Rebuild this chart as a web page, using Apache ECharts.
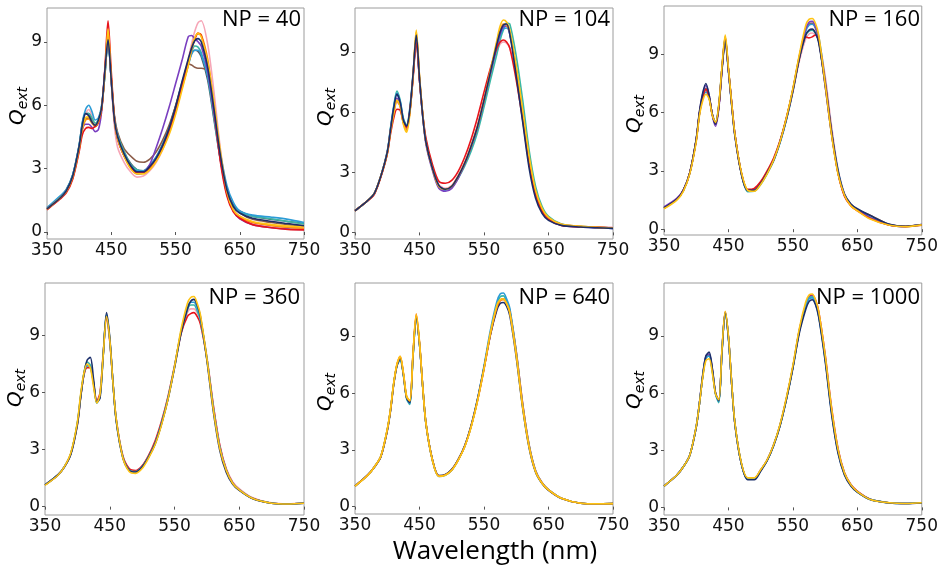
<!DOCTYPE html>
<html><head><meta charset="utf-8">
<script src="https://cdn.jsdelivr.net/npm/echarts@6/dist/echarts.min.js"></script>
<style>html,body{margin:0;padding:0;background:#fff}#c{width:941px;height:569px}</style>
</head><body><div id="c"></div>
<script>
// ---------------- DATA ----------------
const wavelength = [350,370,380,390,400,405,410,415,420,425,430,435,440,445,450,455,460,470,480,490,500,510,520,530,540,550,560,570,575,580,585,590,600,610,620,630,640,650,670,700,725,750];
const xTickLabels = [350,450,550,650,750];
const yTickLabels = [0,3,6,9];
const npLabels = ['NP = 40','NP = 104','NP = 160','NP = 360','NP = 640','NP = 1000'];
const xTitle = 'Wavelength (nm)';

// NP = 40
const np40_gray   = [1.12,1.65,2.0,2.7,4.1, 5.15,5.6,5.6,5.3,5.1, 5.3,5.9,7.5,9.2,7.2, 5.4,4.6,3.8,3.25,2.95, 2.9,3.15,3.55,4.15,4.95, 5.95,7.05,8.0,8.45,8.6, 8.55,8.3,7.2,5.3,3.4, 2.0,1.3,1.0,0.75,0.6, 0.5,0.4];
const np40_brown  = [1.1,1.6,1.95,2.6,4.0, 4.95,5.35,5.4,5.2,5.0, 5.2,5.8,7.4,9.0,7.3, 5.5,4.7,3.95,3.6,3.35, 3.3,3.45,3.8,4.35,5.05, 5.95,6.95,7.95,7.9,7.8, 7.75,7.75,7.6,5.6,3.5, 2.0,1.2,0.9,0.6,0.45, 0.35,0.3];
const np40_pink   = [1.1,1.6,1.95,2.6,4.0, 5.0,5.6,5.8,5.5,5.1, 5.2,5.9,7.6,9.6,7.1, 5.0,4.0,3.3,2.85,2.6, 2.65,2.9,3.3,3.9,4.7, 5.7,6.9,8.2,8.9,9.5, 9.9,10.0,8.9,6.6,3.9, 2.0,1.1,0.75,0.45,0.3, 0.22,0.2];
const np40_teal   = [1.1,1.65,2.0,2.7,4.1, 5.1,5.6,5.6,5.4,5.15, 5.3,5.9,7.4,9.0,7.2, 5.4,4.6,3.8,3.2,2.95, 2.9,3.1,3.5,4.1,4.85, 5.8,6.9,7.95,8.5,8.8, 8.75,8.5,7.4,5.4,3.4, 1.9,1.2,0.95,0.75,0.62, 0.5,0.38];
const np40_blue   = [1.15,1.7,2.0,2.7,4.1, 5.2,5.8,6.0,5.7,5.3, 5.4,6.0,7.4,9.1,7.2, 5.3,4.5,3.7,3.15,2.9, 2.9,3.15,3.55,4.15,4.9, 5.85,6.9,7.9,8.4,8.6, 8.6,8.4,7.4,5.6,3.7, 2.2,1.4,1.0,0.8,0.7, 0.6,0.45];
const np40_purple = [1.1,1.6,1.95,2.6,3.95, 4.85,5.1,5.1,4.95,4.75, 4.85,5.7,7.6,9.2,7.2, 5.2,4.4,3.6,3.05,2.75, 2.8,3.2,4.0,4.9,5.9, 7.0,8.1,9.25,9.3,9.15, 9.0,8.8,7.6,5.6,3.4, 1.8,1.0,0.62,0.35,0.2, 0.15,0.12];
const np40_orange = [1.08,1.58,1.9,2.55,3.9, 4.85,5.3,5.35,5.15,5.0, 5.2,5.8,7.5,9.3,7.3, 5.3,4.4,3.6,3.05,2.8, 2.8,3.0,3.4,4.0,4.7, 5.65,6.8,7.9,8.6,9.1, 9.4,9.35,8.2,6.0,3.5, 1.8,1.0,0.7,0.45,0.3, 0.22,0.18];
const np40_red    = [1.05,1.55,1.85,2.5,3.8, 4.6,4.9,4.95,4.9,5.0, 5.2,5.8,7.7,10.0,7.6, 5.4,4.4,3.6,3.1,2.8, 2.8,3.0,3.4,4.0,4.75, 5.7,6.9,8.1,8.7,9.15, 9.4,9.3,8.0,5.8,3.3, 1.7,0.95,0.65,0.35,0.2, 0.12,0.1];
const np40_gold   = [1.08,1.6,1.92,2.6,3.95, 4.95,5.4,5.45,5.2,5.05, 5.25,5.9,7.5,9.6,7.3, 5.3,4.4,3.6,3.0,2.75, 2.75,2.95,3.35,3.9,4.6, 5.55,6.7,7.9,8.7,9.2, 9.4,9.25,8.1,6.1,3.8, 1.9,1.05,0.75,0.5,0.35, 0.28,0.25];
const np40_navy   = [1.1,1.6,1.95,2.65,4.05, 5.05,5.6,5.5,5.2,5.05, 5.3,5.9,7.6,9.1,7.2, 5.3,4.5,3.7,3.15,2.85, 2.85,3.1,3.5,4.1,4.9, 5.9,7.1,8.2,8.7,9.05, 9.15,9.0,7.8,5.8,3.6, 2.0,1.2,0.9,0.65,0.5, 0.4,0.3];

// NP = 104
const np104_pink   = [1.08,1.6,1.95,2.8,3.95, 5.0,5.9,6.5,6.3,5.5, 5.2,6.0,7.7,9.6,7.6, 5.8,4.5,3.3,2.4,2.2, 2.35,2.85,3.5,4.35,5.35, 6.6,7.9,9.0,9.4,9.5, 9.45,9.2,8.0,6.2,3.9, 2.1,1.2,0.75,0.4,0.3, 0.27,0.25];
const np104_teal   = [1.08,1.6,1.95,2.8,4.05, 5.2,6.3,7.05,6.6,5.7, 5.35,6.2,7.9,9.7,7.6, 5.8,4.5,3.2,2.3,2.15, 2.25,2.7,3.3,4.05,5.0, 6.25,7.6,8.9,9.6,10.1, 10.45,10.4,8.8,6.6,4.1, 2.3,1.3,0.8,0.42,0.3, 0.26,0.22];
const np104_blue   = [1.08,1.6,1.95,2.8,4.0, 5.15,6.25,6.95,6.55,5.65, 5.3,6.1,7.8,9.6,7.7, 5.9,4.6,3.25,2.3,2.1, 2.25,2.75,3.4,4.2,5.2, 6.5,7.9,9.2,9.8,10.15, 10.2,9.9,8.2,6.0,3.6, 1.95,1.1,0.7,0.38,0.28, 0.24,0.2];
const np104_purple = [1.08,1.6,1.95,2.8,4.0, 5.1,6.1,6.7,6.4,5.5, 5.2,6.0,7.8,9.7,7.6, 5.8,4.4,3.1,2.2,2.05, 2.2,2.7,3.4,4.25,5.25, 6.55,7.95,9.3,9.9,10.25, 10.3,9.9,8.1,5.9,3.5, 1.9,1.05,0.65,0.36,0.27, 0.23,0.2];
const np104_orange = [1.08,1.6,1.95,2.8,3.95, 5.05,6.0,6.55,6.3,5.45, 5.1,6.0,7.8,10.0,7.8, 5.9,4.5,3.2,2.3,2.15, 2.3,2.8,3.45,4.3,5.3, 6.6,8.0,9.5,10.1,10.4, 10.35,10.0,8.2,6.0,3.6, 2.0,1.1,0.72,0.4,0.3, 0.26,0.22];
const np104_red    = [1.08,1.58,1.9,2.75,3.9, 4.9,5.7,6.15,6.1,5.5, 5.25,6.0,7.7,9.5,7.6, 5.9,4.7,3.4,2.55,2.45, 2.6,3.05,3.75,4.65,5.75, 7.0,8.2,9.2,9.5,9.6, 9.5,9.2,7.6,5.6,3.4, 1.9,1.05,0.65,0.35,0.28, 0.25,0.22];
const np104_gold   = [1.08,1.6,1.95,2.8,3.95, 5.0,5.9,6.6,6.3,5.4, 5.0,5.9,7.8,10.1,7.8, 5.9,4.5,3.2,2.3,2.15, 2.3,2.8,3.45,4.3,5.3, 6.6,8.1,9.6,10.3,10.6, 10.5,10.1,8.3,6.1,3.8, 2.1,1.2,0.75,0.4,0.3, 0.25,0.22];
const np104_navy   = [1.08,1.6,1.95,2.8,4.0, 5.1,6.2,6.9,6.5,5.6, 5.3,6.1,7.9,9.85,7.7, 5.8,4.5,3.2,2.35,2.15, 2.3,2.8,3.45,4.3,5.3, 6.6,8.0,9.4,10.0,10.35, 10.4,9.9,7.8,5.5,3.2, 1.7,0.95,0.6,0.35,0.27, 0.23,0.2];

// NP = 160
const np160_pink   = [1.08,1.54,2.0,2.9,4.55, 5.9,6.7,7.1,6.75,5.9, 5.5,6.35,8.3,9.9,8.25, 6.5,4.9,2.9,2.0,2.05, 2.4,2.95,3.6,4.5,5.65, 7.05,8.65,9.8,10.05,10.1, 10.0,9.75,7.9,5.3,3.1, 1.85,1.28,1.0,0.6,0.24, 0.15,0.24];
const np160_brown  = [1.08,1.54,2.0,2.9,4.6, 5.95,6.8,7.25,6.8,5.9, 5.45,6.3,8.3,9.9,8.2, 6.5,4.9,2.9,2.0,2.05, 2.4,2.9,3.55,4.5,5.7, 7.2,8.9,10.3,10.55,10.6, 10.35,9.8,7.4,4.9,2.9, 1.75,1.25,1.0,0.72,0.24, 0.15,0.24];
const np160_teal   = [1.08,1.54,2.0,2.9,4.6, 5.95,6.8,7.2,6.8,5.9, 5.45,6.35,8.3,9.85,8.2, 6.45,4.85,2.85,1.93,1.95, 2.3,2.85,3.5,4.45,5.65, 7.1,8.8,10.0,10.2,10.25, 10.1,9.7,7.5,4.95,2.95, 1.78,1.25,1.0,0.57,0.22, 0.14,0.23];
const np160_blue   = [1.1,1.55,2.0,2.9,4.6, 5.95,6.75,7.05,6.75,5.9, 5.5,6.4,8.3,9.6,8.1, 6.4,4.85,2.9,2.0,2.0, 2.35,2.9,3.55,4.45,5.65, 7.1,8.8,10.2,10.5,10.55, 10.4,9.95,7.7,5.1,3.05, 1.8,1.27,1.0,0.6,0.22, 0.14,0.24];
const np160_purple = [1.15,1.6,2.02,2.9,4.6, 6.0,6.95,7.4,6.9,5.85, 5.3,6.2,8.2,9.8,8.2, 6.45,4.85,2.9,2.0,2.0, 2.35,2.9,3.55,4.5,5.7, 7.2,8.9,10.3,10.65,10.7, 10.45,9.85,7.4,4.9,2.9, 1.75,1.25,1.0,0.58,0.22, 0.14,0.24];
const np160_red    = [1.08,1.54,2.0,2.9,4.6, 5.95,6.8,7.2,6.8,5.9, 5.45,6.3,8.3,9.8,8.2, 6.5,4.9,2.9,2.05,2.1, 2.45,3.0,3.65,4.55,5.75, 7.15,8.8,9.9,9.85,9.9, 10.0,9.7,7.6,5.0,2.9, 1.7,1.2,0.95,0.55,0.2, 0.13,0.2];
const np160_navy   = [1.1,1.55,2.0,2.9,4.65, 6.05,7.0,7.5,6.9,5.9, 5.4,6.3,8.2,9.7,8.2, 6.4,4.8,2.85,2.0,2.0, 2.35,2.9,3.55,4.5,5.7, 7.15,8.8,10.0,10.25,10.3, 10.1,9.6,7.5,5.0,3.0, 1.8,1.3,1.05,0.7,0.25, 0.15,0.22];
const np160_gold   = [1.05,1.5,1.95,2.85,4.5, 5.85,6.6,6.95,6.7,5.85, 5.5,6.4,8.4,10.0,8.3, 6.5,4.9,2.95,2.0,1.95, 2.3,2.85,3.55,4.5,5.75, 7.25,9.0,10.5,10.8,10.85, 10.6,10.0,7.5,4.85,2.85, 1.75,1.2,0.95,0.52,0.2, 0.13,0.22];

// NP = 360
const np360_pink  = [1.14,1.67,2.1,2.8,4.35, 5.75,6.9,7.4,7.35,6.5, 5.5,5.9,8.0,10.0,8.8, 6.5,4.6,2.65,1.95,1.86, 2.12,2.65,3.35,4.4,5.7, 7.3,9.05,10.2,10.4,10.4, 10.2,9.8,7.9,5.35,3.25, 2.0,1.3,0.95,0.48,0.2, 0.15,0.2];
const np360_red   = [1.14,1.67,2.1,2.8,4.35, 5.75,6.9,7.3,7.3,6.5, 5.55,6.0,8.1,9.9,8.7, 6.5,4.6,2.7,2.0,1.9, 2.15,2.7,3.45,4.5,5.8, 7.4,9.1,10.0,10.15,10.2, 10.0,9.6,7.8,5.3,3.2, 1.95,1.25,0.9,0.45,0.18, 0.14,0.18];
const np360_teal  = [1.14,1.67,2.1,2.8,4.4, 5.8,7.0,7.6,7.45,6.5, 5.45,5.8,8.05,10.1,8.8, 6.5,4.55,2.63,1.93,1.84, 2.1,2.63,3.33,4.39,5.7, 7.35,9.15,10.35,10.6,10.6, 10.3,9.8,7.8,5.2,3.1, 1.9,1.22,0.88,0.44,0.18, 0.14,0.18];
const np360_blue  = [1.14,1.67,2.1,2.8,4.4, 5.8,6.95,7.4,7.35,6.45, 5.45,5.85,8.0,10.1,8.8, 6.5,4.55,2.63,1.9,1.82, 2.08,2.6,3.3,4.38,5.7, 7.35,9.2,10.5,10.75,10.75, 10.45,9.9,7.8,5.15,3.1, 1.9,1.22,0.88,0.44,0.18, 0.14,0.18];
const np360_navy  = [1.14,1.67,2.08,2.75,4.3, 5.7,6.95,7.7,7.85,6.7, 5.5,5.7,8.0,10.2,8.9, 6.5,4.5,2.6,1.9,1.82, 2.08,2.6,3.3,4.35,5.65, 7.3,9.1,10.4,10.8,10.9, 10.6,10.0,7.7,5.0,2.95, 1.8,1.18,0.85,0.43,0.18, 0.14,0.18];
const np360_gold  = [1.12,1.65,2.1,2.85,4.45, 5.9,7.0,7.5,7.3,6.3, 5.45,5.9,8.0,10.0,8.8, 6.5,4.6,2.6,1.85,1.75, 2.0,2.55,3.25,4.3,5.65, 7.35,9.3,10.7,11.0,11.05, 10.7,10.1,7.8,5.1,3.05, 1.9,1.22,0.88,0.44,0.18, 0.14,0.18];

// NP = 640
const np640_red    = [1.09,1.68,2.1,2.65,4.05, 5.1,6.5,7.5,7.9,7.05, 5.8,5.55,8.1,10.1,8.65, 6.35,4.4,2.47,1.62,1.68, 1.94,2.47,3.18,4.24,5.62, 7.28,9.1,10.5,10.9,11.0, 10.8,10.35,8.2,5.45,3.25, 1.9,1.26,0.9,0.45,0.18, 0.15,0.16];
const np640_teal   = [1.09,1.68,2.1,2.65,4.06, 5.1,6.5,7.45,7.75,6.95, 5.7,5.4,7.95,10.0,8.6, 6.35,4.4,2.47,1.62,1.68, 1.94,2.47,3.18,4.24,5.65, 7.35,9.2,10.7,11.1,11.15, 10.9,10.4,8.1,5.3,3.18, 1.85,1.24,0.88,0.44,0.18, 0.15,0.16];
const np640_blue   = [1.09,1.68,2.1,2.65,4.05, 5.1,6.5,7.45,7.8,7.0, 5.75,5.45,8.0,10.0,8.6, 6.3,4.35,2.45,1.6,1.66, 1.93,2.46,3.18,4.25,5.7, 7.45,9.35,10.85,11.25,11.3, 11.0,10.5,8.2,5.4,3.25, 1.9,1.26,0.9,0.45,0.18, 0.15,0.16];
const np640_navy   = [1.09,1.68,2.08,2.62,4.0, 5.05,6.45,7.45,7.85,7.0, 5.75,5.5,8.0,9.95,8.6, 6.35,4.4,2.5,1.65,1.7, 1.97,2.5,3.22,4.3,5.7, 7.35,9.1,10.4,10.75,10.8, 10.6,10.1,7.9,5.2,3.1, 1.82,1.22,0.86,0.43,0.18, 0.15,0.16];
const np640_orange = [1.09,1.68,2.1,2.65,4.05, 5.1,6.5,7.5,7.95,7.05, 5.8,5.6,8.1,10.2,8.7, 6.35,4.4,2.47,1.62,1.68, 1.94,2.47,3.18,4.24,5.62, 7.3,9.15,10.55,10.9,10.95, 10.75,10.3,8.1,5.35,3.2, 1.87,1.25,0.89,0.44,0.18, 0.15,0.16];
const np640_gold   = [1.08,1.66,2.1,2.66,4.1, 5.15,6.55,7.55,7.95,7.1, 5.85,5.6,8.1,10.15,8.7, 6.35,4.4,2.45,1.6,1.66, 1.92,2.45,3.15,4.2,5.6, 7.3,9.2,10.65,10.95,11.0, 10.75,10.25,8.0,5.25,3.15, 1.85,1.24,0.88,0.44,0.18, 0.15,0.16];

// NP = 1000
const np1000_red    = [1.12,1.7,2.13,2.74,4.23, 5.45,6.85,7.87,8.0,7.2, 5.98,5.63,8.25,10.26,8.95, 6.5,4.4,2.3,1.52,1.52, 1.96,2.48,3.27,4.32,5.72, 7.38,9.3,10.65,11.05,11.15, 10.9,10.3,8.05,5.25,3.1, 1.83,1.2,0.85,0.43,0.24, 0.2,0.24];
const np1000_purple = [1.12,1.7,2.13,2.74,4.25, 5.5,6.95,7.95,8.05,7.25, 6.0,5.6,8.25,10.25,8.95, 6.5,4.4,2.3,1.52,1.52, 1.96,2.48,3.27,4.32,5.72, 7.38,9.3,10.6,11.0,11.1, 10.8,10.17,7.9,5.1,3.0, 1.78,1.17,0.82,0.42,0.24, 0.2,0.24];
const np1000_teal   = [1.12,1.7,2.13,2.74,4.23, 5.45,6.85,7.85,7.95,7.15, 5.95,5.5,8.2,10.2,8.9, 6.5,4.4,2.3,1.5,1.5, 1.95,2.47,3.26,4.3,5.7, 7.35,9.28,10.6,11.0,11.05, 10.75,10.1,7.85,5.05,2.95, 1.76,1.16,0.81,0.42,0.24, 0.2,0.24];
const np1000_blue   = [1.12,1.7,2.13,2.74,4.23, 5.45,6.85,7.85,7.95,7.15, 5.95,5.55,8.2,10.2,8.9, 6.5,4.4,2.3,1.48,1.48, 1.93,2.45,3.24,4.3,5.7, 7.36,9.25,10.55,10.95,11.0, 10.7,10.05,7.8,5.0,2.92, 1.75,1.15,0.8,0.41,0.23, 0.2,0.24];
const np1000_navy   = [1.12,1.7,2.13,2.74,4.2, 5.45,6.9,7.95,8.15,7.3, 6.0,5.6,8.2,10.2,8.9, 6.5,4.4,2.3,1.45,1.45, 1.9,2.45,3.22,4.27,5.67, 7.3,9.15,10.4,10.8,10.9, 10.65,10.0,7.7,4.9,2.85, 1.7,1.12,0.8,0.41,0.23, 0.2,0.23];
const np1000_gold   = [1.12,1.7,2.13,2.74,4.25, 5.45,6.8,7.7,7.8,7.05, 5.95,5.65,8.3,10.3,9.0, 6.55,4.45,2.35,1.55,1.55, 1.98,2.5,3.28,4.35,5.78, 7.45,9.4,10.8,11.15,11.2, 10.9,10.3,8.0,5.2,3.05, 1.8,1.18,0.83,0.42,0.24, 0.2,0.24];

// ---------------- STYLE / LAYOUT ----------------
const COLORS = {gray:'#4E5D6C', brown:'#8B5B48', pink:'#F6A6B7', teal:'#3BB8A4', blue:'#2C9CD6',
  purple:'#7A3FC0', orange:'#FF8A14', red:'#E8141C', gold:'#FFC414', navy:'#1B2E6A'};

const panels = [
  [['gray',np40_gray],['brown',np40_brown],['pink',np40_pink],['teal',np40_teal],['blue',np40_blue],['purple',np40_purple],['orange',np40_orange],['red',np40_red],['gold',np40_gold],['navy',np40_navy]],
  [['pink',np104_pink],['teal',np104_teal],['blue',np104_blue],['purple',np104_purple],['orange',np104_orange],['red',np104_red],['gold',np104_gold],['navy',np104_navy]],
  [['pink',np160_pink],['brown',np160_brown],['teal',np160_teal],['blue',np160_blue],['purple',np160_purple],['red',np160_red],['navy',np160_navy],['gold',np160_gold]],
  [['pink',np360_pink],['red',np360_red],['teal',np360_teal],['blue',np360_blue],['navy',np360_navy],['gold',np360_gold]],
  [['red',np640_red],['teal',np640_teal],['blue',np640_blue],['navy',np640_navy],['orange',np640_orange],['gold',np640_gold]],
  [['red',np1000_red],['purple',np1000_purple],['teal',np1000_teal],['blue',np1000_blue],['navy',np1000_navy],['gold',np1000_gold]]
];

const layout = [
  {left:47,  top:8,   width:257,   height:231, ymin:-0.33, ymax:10.6,  npX:301, npY:9,   qX:18, qY:106},
  {left:355, top:8,   width:258,   height:231, ymin:-0.33, ymax:11.2,  npX:610, npY:9,   qX:326,qY:107},
  {left:664, top:6,   width:258.5, height:229, ymin:-0.30, ymax:11.49, npX:920, npY:9,   qX:635,qY:114},
  {left:45,  top:283, width:259,   height:232, ymin:-0.44, ymax:11.76, npX:300, npY:287, qX:16, qY:388},
  {left:355, top:283, width:258,   height:231, ymin:-0.39, ymax:11.83, npX:610, npY:287, qX:326,qY:392},
  {left:664, top:283, width:258.5, height:232, ymin:-0.40, ymax:11.78, npX:920, npY:287, qX:635,qY:390}
];

const grids = [], xAxes = [], yAxes = [], series = [], graphics = [];
layout.forEach((L, p) => {
  grids.push({left:L.left, top:L.top, width:L.width, height:L.height, show:true,
    borderColor:'#9c9c9c', borderWidth:1, backgroundColor:'#fff'});
  xAxes.push({gridIndex:p, type:'value', min:350, max:750,
    axisLine:{show:false}, splitLine:{show:false},
    axisTick:{show:true, length:3, lineStyle:{color:'#555'}, customValues:xTickLabels},
    axisLabel:{fontFamily:'DejaVu Sans', fontSize:17, color:'#111', margin:3, customValues:xTickLabels}});
  yAxes.push({gridIndex:p, type:'value', min:L.ymin, max:L.ymax,
    axisLine:{show:false}, splitLine:{show:false},
    axisTick:{show:true, length:3, lineStyle:{color:'#555'}, customValues:yTickLabels},
    axisLabel:{fontFamily:'DejaVu Sans', fontSize:17, color:'#111', margin:5, customValues:yTickLabels}});
  panels[p].forEach(([c, arr]) => {
    series.push({type:'line', xAxisIndex:p, yAxisIndex:p, name:c+p,
      data: wavelength.map((w,i) => [w, arr[i]]),
      showSymbol:false, smooth:0.3, silent:true, clip:true,
      lineStyle:{width:1.6, color:COLORS[c]}, itemStyle:{color:COLORS[c]}});
  });
  graphics.push({type:'text', x:L.npX, y:L.npY, z:100,
    style:{text:npLabels[p], align:'right', verticalAlign:'top', fill:'#000',
      font:'22px "Open Sans"'}});
  graphics.push({type:'text', x:L.qX, y:L.qY, rotation:Math.PI/2, z:100,
    style:{text:'{q|Q}{s|ext}', align:'center', verticalAlign:'middle', fill:'#000',
      rich:{q:{fontFamily:'DejaVu Sans', fontStyle:'italic', fontSize:20, fill:'#000', verticalAlign:'top', lineHeight:20},
            s:{fontFamily:'DejaVu Sans', fontStyle:'italic', fontSize:14, fill:'#000', verticalAlign:'top', lineHeight:14, padding:[8,0,0,0]}}}});
});
graphics.push({type:'text', x:495, y:539, z:100,
  style:{text:xTitle, align:'center', verticalAlign:'top', fill:'#000', font:'26px "Open Sans"'}});

const chart = echarts.init(document.getElementById('c'), null, {renderer:'canvas'});
chart.setOption({animation:false, backgroundColor:'#fff', grid:grids, xAxis:xAxes, yAxis:yAxes, series:series, graphic:graphics});
</script>
</body></html>
